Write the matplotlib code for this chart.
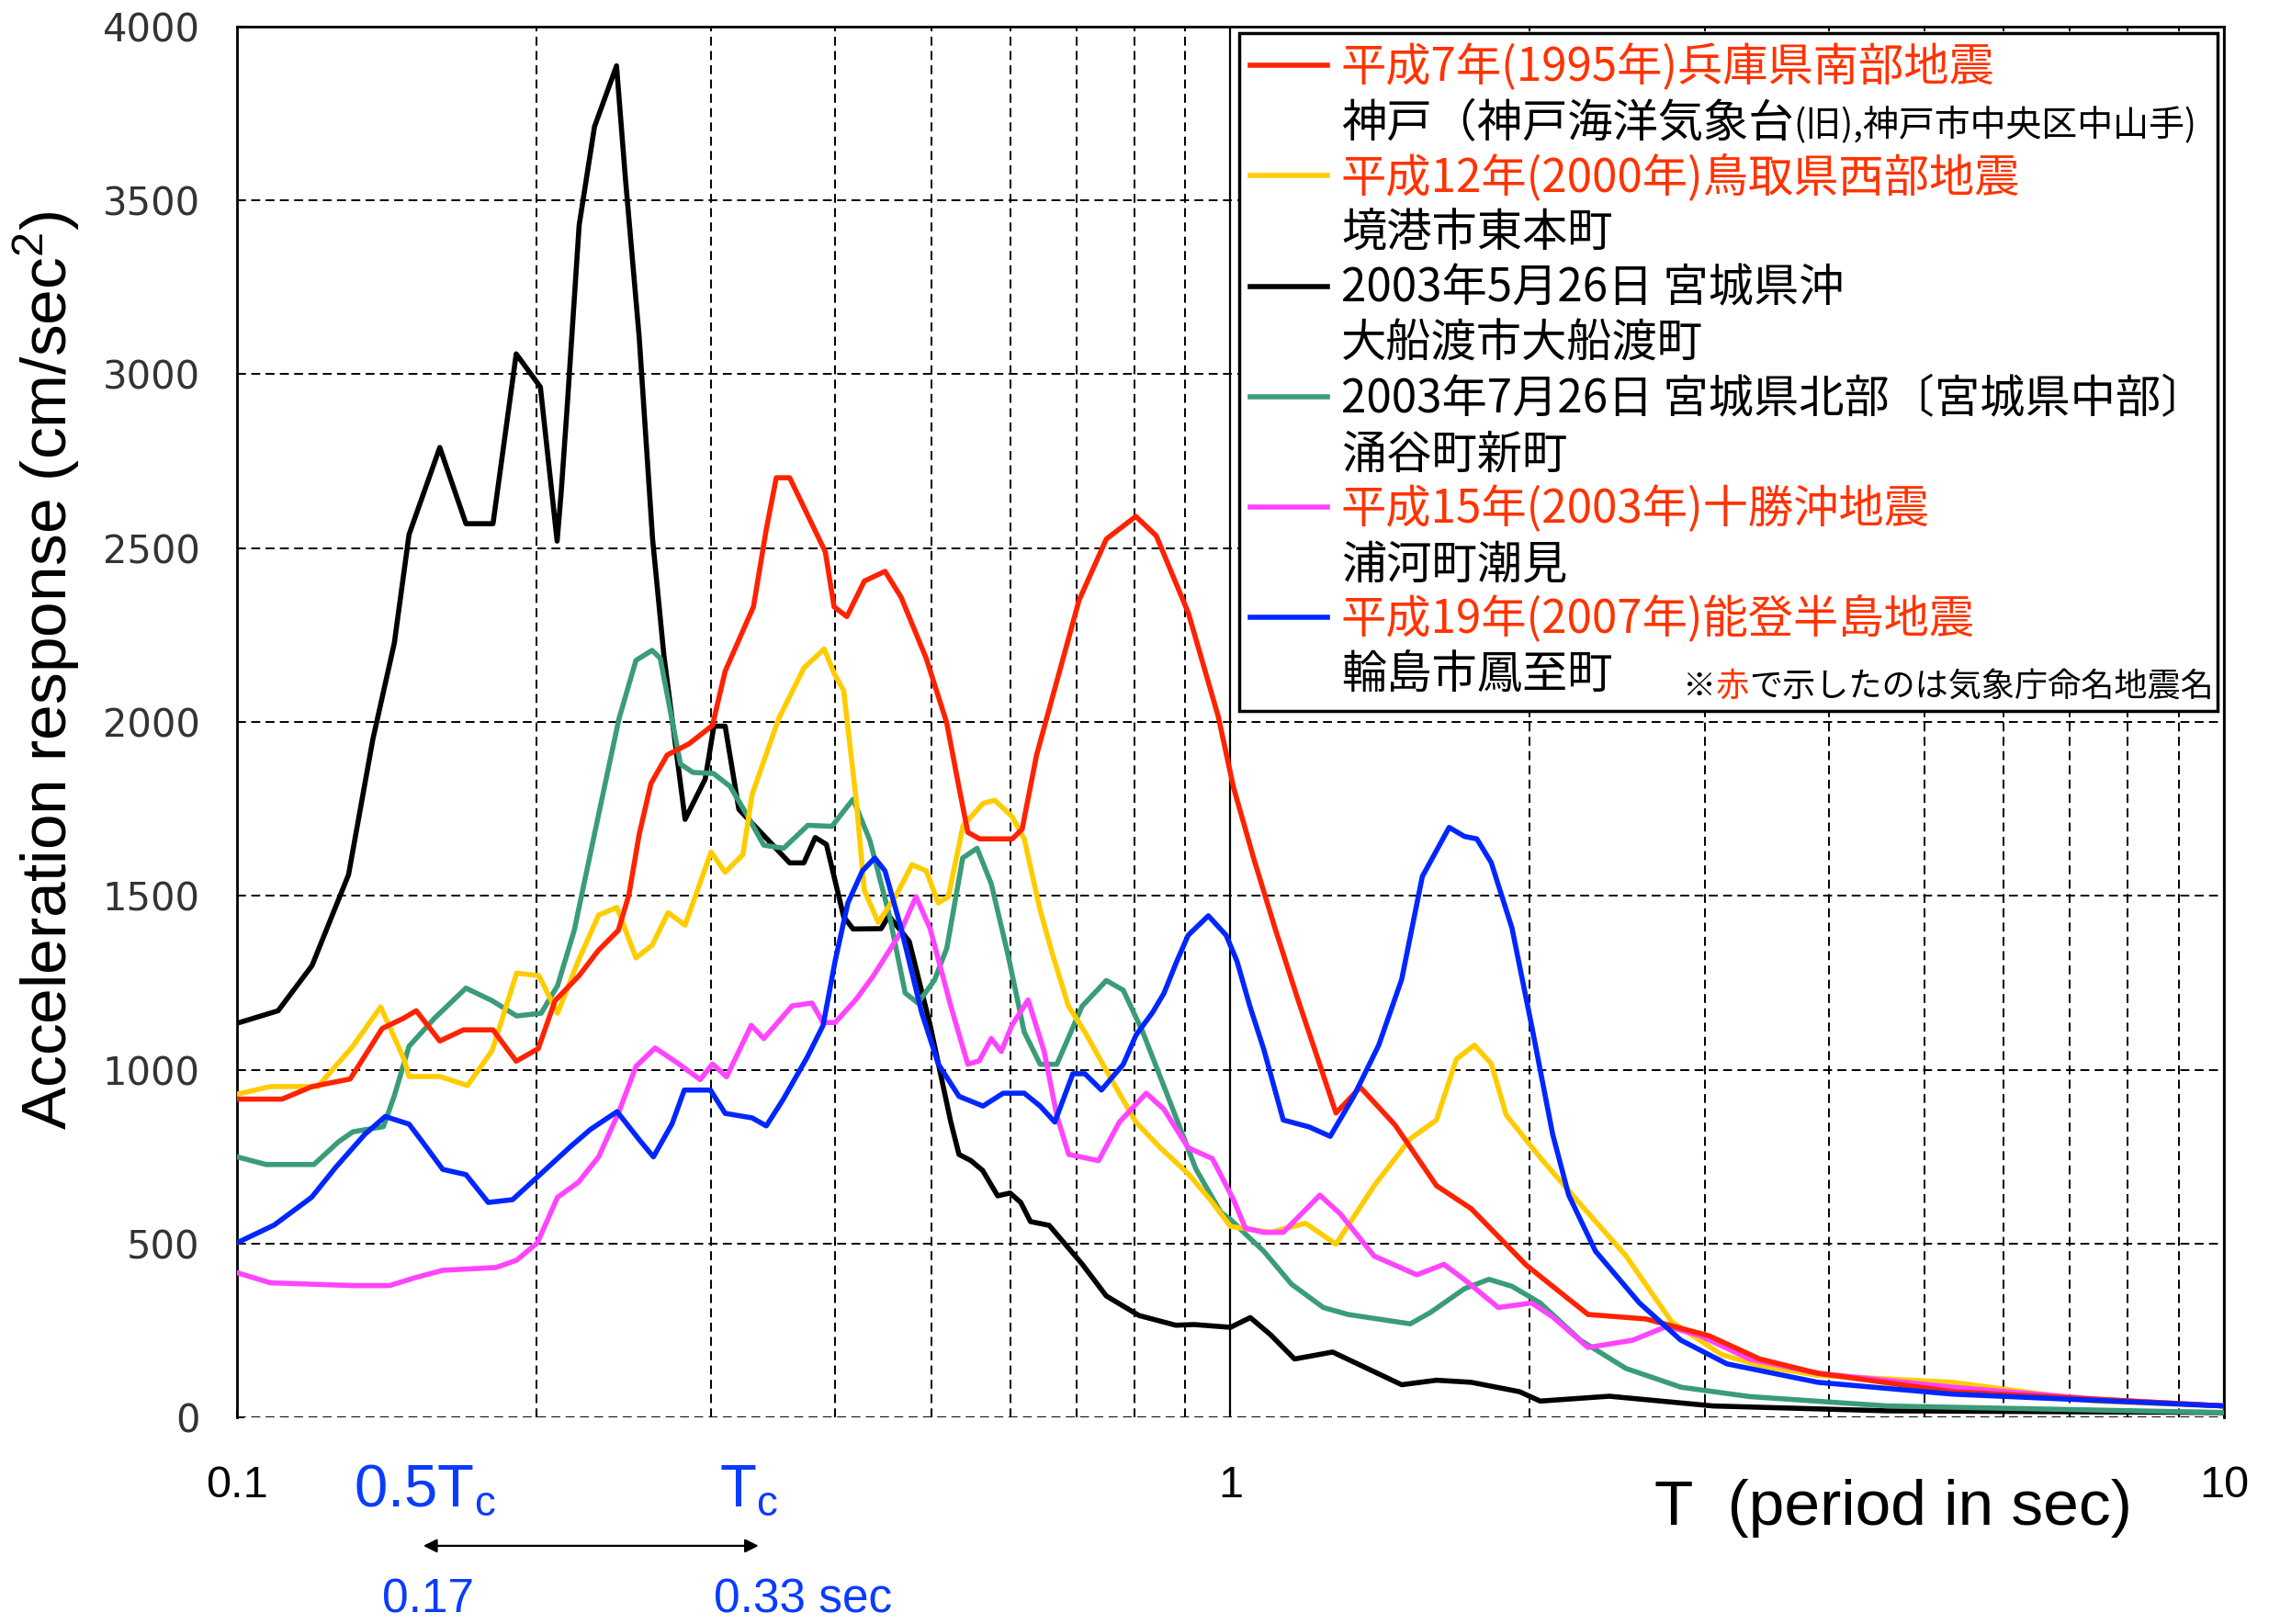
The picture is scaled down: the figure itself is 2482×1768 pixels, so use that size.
import numpy as np
import matplotlib
matplotlib.use('Agg')
import matplotlib.pyplot as plt
from matplotlib.lines import Line2D
from matplotlib import font_manager
from matplotlib.ticker import NullFormatter, LogLocator

plt.rcParams['font.family'] = ['Liberation Sans', 'DejaVu Sans']
plt.rcParams['mathtext.fontset'] = 'custom'
plt.rcParams['mathtext.rm'] = 'Liberation Sans'
plt.rcParams['mathtext.it'] = 'Liberation Sans:italic'
plt.rcParams['mathtext.bf'] = 'Liberation Sans:bold'

installed = {f.name for f in font_manager.fontManager.ttflist}
narrow = 'Liberation Sans Narrow' if 'Liberation Sans Narrow' in installed else 'Liberation Sans'
cjk = ['Noto Sans CJK JP', 'DejaVu Sans']

# ---- data: period T (sec) and acceleration response (cm/sec^2) ----
kobe_T = [0.100, 0.111, 0.119, 0.130, 0.140, 0.147, 0.1515, 0.160, 0.169, 0.181, 0.191, 0.201,
          0.209, 0.221, 0.231, 0.242, 0.248, 0.254, 0.261, 0.271, 0.285, 0.301, 0.310, 0.331,
          0.341, 0.349, 0.360, 0.391, 0.399, 0.411, 0.428, 0.449, 0.466, 0.494, 0.518, 0.533,
          0.544, 0.559, 0.603, 0.617, 0.638, 0.662, 0.704, 0.750, 0.803, 0.842, 0.907, 0.972,
          1.007, 1.055, 1.109, 1.168, 1.277, 1.351, 1.464, 1.612, 1.747, 1.986, 2.29, 2.62,
          3.03, 3.41, 3.9, 5.33, 10.0]
kobe_A = [916, 916, 952, 974, 1119, 1148, 1170, 1083, 1115, 1115, 1025, 1061,
          1199, 1271, 1343, 1401, 1503, 1677, 1823, 1905, 1937, 1990, 2146, 2331,
          2554, 2702, 2702, 2489, 2331, 2303, 2405, 2433, 2359, 2183, 1998, 1812,
          1683, 1664, 1664, 1692, 1905, 2072, 2350, 2526, 2591, 2535, 2313, 2016,
          1812, 1609, 1406, 1206, 876, 950, 842, 667, 601, 438, 297, 284,
          236, 169, 128, 75, 34]

tottori_T = [0.100, 0.108, 0.1206, 0.1308, 0.1395, 0.1472, 0.149, 0.160, 0.1706, 0.1806, 0.1912,
             0.2013, 0.2102, 0.2206, 0.2312, 0.2412, 0.2521, 0.2617, 0.2716, 0.2825, 0.300, 0.310,
             0.323, 0.330, 0.351, 0.372, 0.390, 0.399, 0.408, 0.420, 0.428, 0.442, 0.460, 0.478,
             0.494, 0.508, 0.520, 0.538, 0.5635, 0.579, 0.6025, 0.620, 0.643, 0.662, 0.687, 0.7135,
             0.750, 0.803, 0.850, 0.907, 0.959, 1.0, 1.097, 1.19, 1.277, 1.395, 1.517, 1.612,
             1.688, 1.76, 1.83, 1.895, 2.05, 2.25, 2.5, 2.78, 3.12, 3.42, 3.9, 5.33, 7.4, 10.0]
tottori_A = [930, 952, 952, 1068, 1181, 1032, 981, 981, 955, 1055, 1278,
             1271, 1163, 1314, 1445, 1467, 1322, 1358, 1452, 1416, 1626, 1568,
             1619, 1792, 2010, 2155, 2210, 2140, 2090, 1775, 1516, 1424, 1498, 1590,
             1572, 1480, 1498, 1702, 1766, 1775, 1729, 1664, 1461, 1332, 1183, 1109,
             998, 850, 776, 701, 619, 550, 533, 559, 499, 667, 802, 856,
             1031, 1071, 1018, 870, 748, 614, 466, 276, 182, 149, 122, 102, 48, 34]

miyagioki_T = [0.100, 0.110, 0.119, 0.1295, 0.137, 0.144, 0.149, 0.160, 0.170, 0.181, 0.191,
               0.202, 0.210, 0.212, 0.215, 0.221, 0.229, 0.241, 0.246, 0.254, 0.262, 0.269,
               0.2825, 0.296, 0.302, 0.310, 0.320, 0.341, 0.360, 0.372, 0.382, 0.392, 0.408,
               0.417, 0.445, 0.453, 0.475, 0.4985, 0.523, 0.533, 0.548, 0.563, 0.583, 0.600,
               0.615, 0.629, 0.657, 0.709, 0.750, 0.809, 0.881, 0.919, 1.0, 1.047, 1.097,
               1.160, 1.267, 1.487, 1.612, 1.747, 1.954, 2.05, 2.406, 3.06, 4.58, 10.0]
miyagioki_A = [1134, 1170, 1300, 1561, 1950, 2227, 2539, 2789, 2570, 2570, 3058,
               2963, 2520, 2661, 2910, 3428, 3711, 3886, 3563, 3106, 2526, 2190,
               1720, 1836, 1988, 1988, 1749, 1666, 1595, 1595, 1668, 1648, 1440,
               1405, 1406, 1443, 1369, 1129, 850, 757, 739, 711, 638, 646,
               619, 564, 553, 442, 350, 294, 266, 268, 260, 288, 239,
               169, 189, 95, 108, 102, 75, 48, 62, 34, 20, 15]

miyaginorth_T = [0.100, 0.107, 0.1195, 0.1265, 0.1308, 0.1404, 0.1439, 0.149, 0.158, 0.170, 0.1806,
                 0.1912, 0.2024, 0.2102, 0.2185, 0.2312, 0.2424, 0.2521, 0.2617, 0.2667, 0.2795,
                 0.2877, 0.3017, 0.3135, 0.3259, 0.339, 0.355, 0.3755, 0.397, 0.417, 0.4335,
                 0.4537, 0.4705, 0.4846, 0.5036, 0.5182, 0.5376, 0.5558, 0.5744, 0.597, 0.620,
                 0.6433, 0.6687, 0.709, 0.750, 0.780, 0.816, 0.870, 0.923, 0.978, 1.0, 1.046,
                 1.08, 1.152, 1.24, 1.313, 1.517, 1.59, 1.72, 1.82, 1.92, 2.05, 2.25, 2.5,
                 2.84, 3.33, 4.58, 10.0]
miyaginorth_A = [750, 728, 728, 793, 822, 837, 923, 1068, 1148, 1235, 1199,
                 1155, 1163, 1242, 1401, 1734, 2010, 2177, 2206, 2183, 1879,
                 1855, 1852, 1815, 1734, 1646, 1637, 1703, 1700, 1778, 1660,
                 1443, 1221, 1192, 1258, 1350, 1609, 1637, 1535, 1332, 1109,
                 1016, 1016, 1183, 1257, 1229, 1109, 905, 715, 590, 570, 516,
                 479, 384, 317, 297, 270, 303, 371, 398, 378, 330, 223, 142,
                 88, 61, 34, 15]

tokachi_T = [0.100, 0.108, 0.1308, 0.1424, 0.1508, 0.1611, 0.1823, 0.1912, 0.2006, 0.2102, 0.2206,
             0.2312, 0.2424, 0.2521, 0.2635, 0.2788, 0.2926, 0.301, 0.311, 0.3293, 0.339, 0.362,
             0.379, 0.389, 0.400, 0.4197, 0.4365, 0.464, 0.4825, 0.4985, 0.523, 0.544, 0.5585,
             0.5744, 0.5878, 0.6025, 0.6256, 0.6493, 0.6687, 0.6874, 0.7365, 0.773, 0.8226,
             0.857, 0.9066, 0.9588, 1.007, 1.035, 1.08, 1.13, 1.23, 1.29, 1.395, 1.54, 1.64,
             1.72, 1.86, 2.01, 2.11, 2.29, 2.54, 2.75, 2.97, 3.33, 3.9, 5.33, 7.4, 10.0]
tokachi_A = [417, 388, 380, 380, 402, 424, 432, 453, 503, 634, 677,
             750, 880, 1010, 1063, 1016, 972, 1017, 980, 1128, 1090, 1184,
             1192, 1136, 1136, 1202, 1268, 1388, 1498, 1406, 1183, 1016, 1026,
             1090, 1053, 1128, 1201, 1053, 868, 757, 739, 850, 933,
             887, 776, 745, 627, 545, 533, 533, 640, 586, 465, 411, 441,
             397, 317, 330, 290, 202, 223, 263, 236, 169, 128, 88, 54, 34]

noto_T = [0.100, 0.109, 0.1189, 0.1258, 0.1345, 0.141, 0.149, 0.1537, 0.1611, 0.170, 0.179,
          0.1894, 0.2006, 0.2165, 0.2269, 0.2413, 0.2544, 0.2625, 0.2741, 0.282, 0.2996, 0.310,
          0.330, 0.341, 0.3546, 0.3747, 0.389, 0.400, 0.412, 0.4261, 0.4385, 0.449, 0.4662,
          0.4888, 0.5082, 0.533, 0.5635, 0.5905, 0.620, 0.6433, 0.6655, 0.694, 0.7135, 0.7415,
          0.780, 0.8034, 0.8347, 0.857, 0.8832, 0.9066, 0.950, 0.990, 1.015, 1.046, 1.08,
          1.13, 1.20, 1.26, 1.33, 1.41, 1.487, 1.56, 1.66, 1.72, 1.77, 1.83, 1.92, 2.01,
          2.11, 2.19, 2.33, 2.58, 2.84, 3.16, 3.9, 5.33, 10.0]
noto_A = [503, 554, 634, 721, 815, 866, 844, 793, 714, 699, 619,
          627, 692, 779, 829, 880, 797, 750, 845, 942, 942, 875,
          862, 839, 915, 1035, 1128, 1313, 1480, 1572, 1609, 1572, 1406,
          1165, 1016, 924, 896, 933, 933, 896, 850, 989, 989, 942,
          1016, 1100, 1165, 1220, 1313, 1387, 1443, 1387, 1313, 1183, 1060,
          856, 836, 809, 923, 1071, 1260, 1556, 1697, 1671, 1664, 1596, 1408, 1126,
          815, 640, 479, 330, 223, 155, 102, 68, 34]

series_T = [kobe_T, tottori_T, miyagioki_T, miyaginorth_T, tokachi_T, noto_T]
series_A = [kobe_A, tottori_A, miyagioki_A, miyaginorth_A, tokachi_A, noto_A]
line_colors = ['#ff2200', '#ffcc00', '#000000', '#3a9c78', '#ff44ff', '#0026ff']
draw_order = [2, 3, 1, 4, 0, 5]

quake_names = ['平成7年(1995年)兵庫県南部地震', '平成12年(2000年)鳥取県西部地震',
               '2003年5月26日 宮城県沖', '2003年7月26日 宮城県北部〔宮城県中部〕',
               '平成15年(2003年)十勝沖地震', '平成19年(2007年)能登半島地震']
name_colors = ['#ff3300', '#ff3300', 'black', 'black', '#ff3300', '#ff3300']
stations = ['神戸（神戸海洋気象台', '境港市東本町', '大船渡市大船渡町', '涌谷町新町',
            '浦河町潮見', '輪島市鳳至町']
kobe_station_rest = '(旧),神戸市中央区中山手)'

y_ticks = [0, 500, 1000, 1500, 2000, 2500, 3000, 3500, 4000]
x_ticks = [0.1, 1, 10]
x_ticklabels = ['0.1', '1', '10']

blue_txt = '#0a3cff'

fig = plt.figure(figsize=(24.82, 17.68), dpi=100)
ax = fig.add_axes([0.10395, 0.12698, 0.87147, 0.85690])

for i in draw_order:
    ax.plot(series_T[i], series_A[i], color=line_colors[i], lw=4.0, zorder=3)

ax.set_xscale('log')
ax.set_xlim(0.1, 10)
ax.set_ylim(0, 4000)
ax.set_yticks(y_ticks)
ax.set_yticklabels([str(v) for v in y_ticks], family='DejaVu Sans', color='#333333')
ax.set_xticks(x_ticks)
ax.set_xticklabels(x_ticklabels, family=narrow)
ax.xaxis.set_minor_locator(LogLocator(base=10, subs=np.arange(2, 10)))
ax.xaxis.set_minor_formatter(NullFormatter())

dash = (0, (5, 3))
ax.grid(True, axis='y', which='major', color='black', linestyle=dash, lw=1.4)
ax.grid(True, axis='x', which='minor', color='black', linestyle=dash, lw=1.4)
ax.grid(True, axis='x', which='major', color='black', linestyle='-', lw=1.6)
ax.set_axisbelow(True)

ax.spines['bottom'].set_visible(False)
for s in ['left', 'top', 'right']:
    ax.spines[s].set_linewidth(2)

ax.tick_params(axis='x', which='both', direction='in', length=6, width=1.5, pad=37, labelsize=35)
ax.tick_params(axis='y', which='both', direction='in', length=6, width=1.5, pad=29, labelsize=30)

ax.set_ylabel('Acceleration response (cm/sec$^2$)', fontsize=50, va='center')
ax.yaxis.set_label_coords(-0.096, 0.537)
ax.set_xlabel('T  (period in sec)', fontsize=50, va='center')
ax.xaxis.set_label_coords(0.8336, -0.065)

# legend: one row for the quake (with its line), one row for the station
handles, labels, text_colors = [], [], []
for i in range(6):
    handles.append(Line2D([], [], color=line_colors[i], lw=4))
    labels.append(quake_names[i])
    text_colors.append(name_colors[i])
    handles.append(Line2D([], [], color='none'))
    labels.append(stations[i])
    text_colors.append('black')

leg = ax.legend(handles, labels, loc='upper right', bbox_to_anchor=(1, 1),
                borderaxespad=0.15, prop={'family': cjk, 'size': 35.5},
                handlelength=1.7, handletextpad=0.3, borderpad=0.25, labelspacing=0.165,
                fancybox=False, edgecolor='black', framealpha=1)
leg.get_frame().set_linewidth(2.5)
leg.set_zorder(6)
for t, c in zip(leg.get_texts(), text_colors):
    t.set_color(c)

ax.annotate(kobe_station_rest, xy=(1, 0), xycoords=leg.get_texts()[1], xytext=(0, 3),
            textcoords='offset points', ha='left', va='bottom', fontsize=28,
            family=cjk, zorder=10)
note = ax.annotate('で示したのは気象庁命名地震名', xy=(1, 0), xycoords=leg, xytext=(-3, 6),
                   textcoords='offset points', ha='right', va='bottom', fontsize=26,
                   family=cjk, zorder=10)
red_word = ax.annotate('赤', xy=(0, 0), xycoords=note, ha='right', va='bottom',
                       fontsize=26, family=cjk, color='#ff3300', zorder=10)
ax.annotate('※', xy=(0, 0), xycoords=red_word, ha='right', va='bottom',
            fontsize=26, family=cjk, zorder=10)

# corner period annotations below the axis
xt = ax.get_xaxis_transform()
ax.text(0.131, -0.0637, r'0.5T$_{\rm c}$', transform=xt, color=blue_txt, fontsize=47,
        ha='left', va='baseline')
ax.text(0.306, -0.0637, r'T$_{\rm c}$', transform=xt, color=blue_txt, fontsize=47,
        ha='left', va='baseline')
ax.annotate('', xy=(0.335, -0.092), xytext=(0.154, -0.092), xycoords=xt,
            arrowprops=dict(arrowstyle='<|-|>', color='black', lw=1.6, mutation_scale=22,
                            shrinkA=0, shrinkB=0),
            annotation_clip=False)
ax.text(0.140, -0.1398, '0.17', transform=xt, color=blue_txt, fontsize=37,
        ha='left', va='baseline')
ax.text(0.302, -0.1398, '0.33 sec', transform=xt, color=blue_txt, fontsize=37,
        ha='left', va='baseline')

fig.savefig('out.png', dpi=100)
